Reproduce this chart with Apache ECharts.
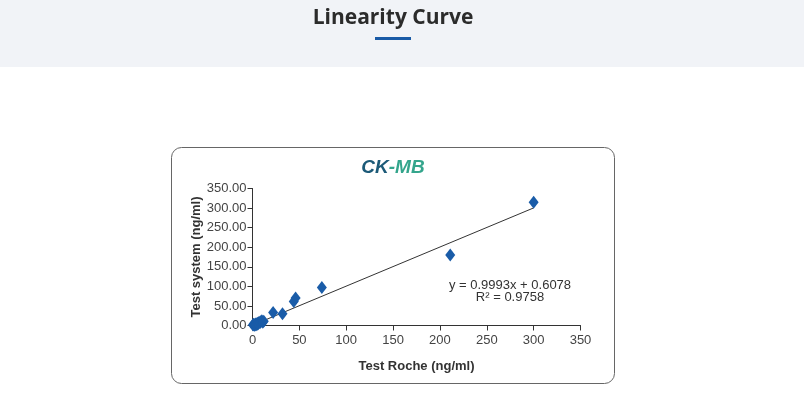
<!DOCTYPE html>
<html>
<head>
<meta charset="utf-8">
<script src="https://cdn.jsdelivr.net/npm/echarts@6/dist/echarts.min.js"></script>
<style>
  html, body { margin: 0; padding: 0; background: #fff; }
  #main { width: 804px; height: 405px; }
</style>
</head>
<body>
<div id="main"></div>
<script>
// data
const rocheX = [0.5, 1, 1.5, 2, 2.5, 3, 3.5, 4, 5, 5.5, 6, 7, 8, 9, 10, 11, 12, 22, 32, 44, 46, 74, 211, 300];
const systemY = [1, 3, 2, 1.5, 0.5, 4, 3, 2, 6, 3.5, 5, 8, 7, 10, 12, 8, 11, 33, 30, 61, 70, 97, 180, 315];
const trendX = [0, 300];
const trendY = [0.61, 300.4];
const axisTicks = [0, 50, 100, 150, 200, 250, 300, 350];
const equation = ['y = 0.9993x + 0.6078', 'R\u00b2 = 0.9758'];

const points = rocheX.map((x, i) => [x, systemY[i]]);
const trend = trendX.map((x, i) => [x, trendY[i]]);

const chart = echarts.init(document.getElementById('main'), null, { renderer: 'canvas' });
const font = '"Liberation Sans", Arial, sans-serif';

chart.setOption({
  animation: false,
  textStyle: { fontFamily: font },
  graphic: [
    { type: 'rect', shape: { x: 0, y: 0, width: 804, height: 67 }, style: { fill: '#f1f3f7' }, z: -10 },
    { type: 'text', x: 393, y: 18, style: { text: 'Linearity Curve', fill: '#2b2b2b', font: 'bold 21px "Open Sans", sans-serif', align: 'center', verticalAlign: 'middle' } },
    { type: 'rect', shape: { x: 375, y: 37, width: 36, height: 3 }, style: { fill: '#1a5aa6' } },
    { type: 'rect', shape: { x: 171.5, y: 147.5, width: 443, height: 236, r: 10 }, style: { fill: '#fff', stroke: '#666', lineWidth: 1 }, z: -5 },
    { type: 'text', x: 393, y: 168, style: {
        text: '{a|CK}{b|-MB}', align: 'center', verticalAlign: 'middle',
        rich: {
          a: { fontSize: 19, fontWeight: 'bold', fontStyle: 'italic', fill: '#1c5a78', fontFamily: font },
          b: { fontSize: 19, fontWeight: 'bold', fontStyle: 'italic', fill: '#34a58c', fontFamily: font }
        } } },
    { type: 'text', x: 510, y: 285, style: { text: equation[0], fill: '#333', font: '13px ' + font, align: 'center', verticalAlign: 'middle' } },
    { type: 'text', x: 510, y: 297, style: { text: equation[1], fill: '#333', font: '13px ' + font, align: 'center', verticalAlign: 'middle' } }
  ],
  grid: { left: 252.5, right: 223.5, top: 188.5, bottom: 79.5 },
  xAxis: {
    type: 'value', min: axisTicks[0], max: axisTicks[axisTicks.length - 1], interval: 50,
    name: 'Test Roche (ng/ml)', nameLocation: 'middle', nameGap: 34,
    nameTextStyle: { fontSize: 13, fontWeight: 'bold', color: '#333', fontFamily: font },
    axisLine: { lineStyle: { color: '#333' } },
    axisTick: { show: true, length: 5, lineStyle: { color: '#333' } },
    axisLabel: { fontSize: 13, color: '#444', margin: 8, fontFamily: font },
    splitLine: { show: false }
  },
  yAxis: {
    type: 'value', min: axisTicks[0], max: axisTicks[axisTicks.length - 1], interval: 50,
    name: 'Test system (ng/ml)', nameLocation: 'middle', nameGap: 50,
    nameTextStyle: { fontSize: 13, fontWeight: 'bold', color: '#333', fontFamily: font },
    axisLine: { show: true, lineStyle: { color: '#333' } },
    axisTick: { show: true, length: 5, lineStyle: { color: '#333' } },
    axisLabel: { fontSize: 13, color: '#444', margin: 6, fontFamily: font, formatter: v => v.toFixed(2) },
    splitLine: { show: false }
  },
  series: [
    {
      type: 'line', data: trend, showSymbol: false, symbol: 'none',
      lineStyle: { color: '#333', width: 1 }, z: 1
    },
    {
      type: 'scatter', data: points, symbol: 'diamond', symbolSize: [10, 13],
      itemStyle: { color: '#1a5ca8', opacity: 1 }, z: 2
    }
  ]
});
</script>
</body>
</html>
